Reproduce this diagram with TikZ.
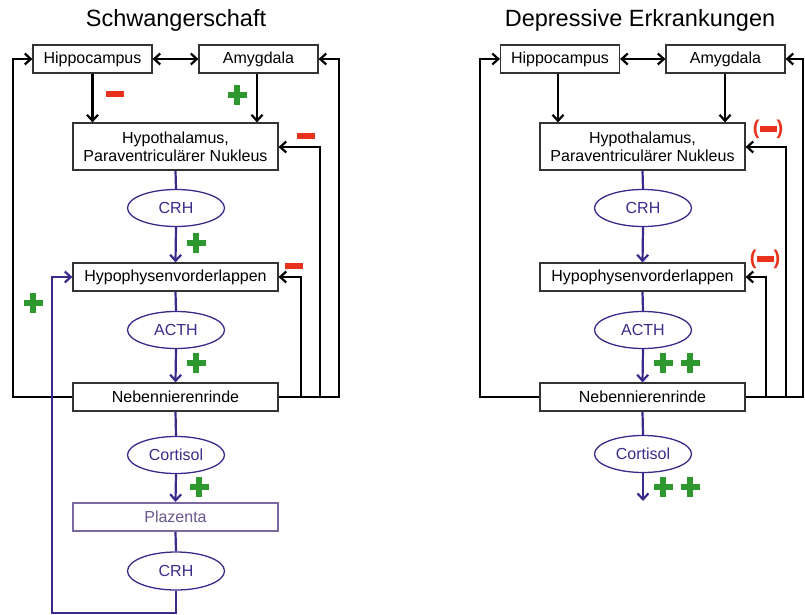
\documentclass[tikz,border=0pt]{standalone}
\usepackage{fontspec}
\setmainfont{Liberation Sans}
\usetikzlibrary{arrows.meta,shapes.geometric}
\definecolor{pblue}{RGB}{58,42,140}
\definecolor{pplac}{RGB}{122,104,160}
\definecolor{pplactext}{RGB}{104,88,142}
\definecolor{pred}{RGB}{232,50,28}
\definecolor{pgreen}{RGB}{46,152,46}
\tikzset{
  box/.style={draw=black!80, line width=1.2pt, fill=white, inner sep=0pt, align=center,
    font=\fontsize{16}{18}\selectfont, minimum height=28pt},
  hbox/.style={box, minimum width=205pt},
  sbox/.style={box, minimum width=119pt},
  hormone/.style={ellipse, draw=pblue, line width=1.3pt, text=pblue, inner sep=0pt,
    minimum width=97pt, minimum height=37pt, font=\fontsize{16}{18}\selectfont},
  plac/.style={hbox, draw=pplac, line width=2.2pt, text=pplactext},
  title/.style={font=\fontsize{23.5}{26}\selectfont, inner sep=0pt},
  karr/.style={line width=2.2pt, black, -{Straight Barb[length=6pt,width=11pt]}},
  kline/.style={line width=2.2pt, black},
  darr/.style={line width=2.2pt, black, {Straight Barb[length=6pt,width=11pt]}-{Straight Barb[length=6pt,width=11pt]}},
  barr/.style={line width=2.2pt, pblue, -{Straight Barb[length=6pt,width=11pt]}},
  bline/.style={line width=2.2pt, pblue},
  plussign/.pic={\fill[pgreen] (-9.5,-3.4) rectangle (9.5,3.4);
                 \fill[pgreen] (-3.4,-9.8) rectangle (3.4,9.8);},
  minussign/.pic={\fill[pred] (-9,-3) rectangle (9,3);},
  parminus/.style={text=pred, inner sep=0pt, font=\bfseries\fontsize{20}{20}\selectfont},
}
\begin{document}
\begin{tikzpicture}[x=1pt,y=-1pt]
\useasboundingbox (0,0) rectangle (805,615);

% ---------------- left: Schwangerschaft ----------------
\node[title] (tL) at (176,20) {Schwangerschaft};
\node[sbox] (hipL) at (92.5,59) {Hippocampus};
\node[sbox] (amyL) at (258.5,59) {Amygdala};
\node[hbox, minimum height=47pt] (hthL) at (175.5,146.5) {Hypothalamus,\\Paraventriculärer Nukleus};
\node[hormone] (crhL) at (176,208) {CRH};
\node[hbox] (hypL) at (175.5,277) {Hypophysenvorderlappen};
\node[hormone] (acthL) at (176,330) {ACTH};
\node[hbox] (nebL) at (175.5,397) {Nebennierenrinde};
\node[hormone] (cortL) at (176,455) {Cortisol};
\node[plac] (plaL) at (175.5,517) {Plazenta};
\node[hormone, minimum height=38pt] (crh2L) at (176,571) {CRH};

\coordinate (LA) at (13,59);
\coordinate (R1L) at (301,277);
\coordinate (R2L) at (320,147);
\coordinate (R3L) at (339,59);
\coordinate (B1L) at (176,613);
\coordinate (B2L) at (52,613);

\draw[darr] (hipL.east) -- (amyL.west);
\draw[karr] (hipL.south) -- (hipL.south |- hthL.north);
\draw[karr] (257,0 |- amyL.south) -- (257,0 |- hthL.north);
\draw[karr] (nebL.west) -| (LA) -- (hipL.west);
\draw[karr] (nebL.east) -| (R1L) -- (hypL.east);
\draw[karr] (nebL.east) -| (R2L) -- (hthL.east |- R2L);
\draw[karr] (nebL.east) -| (R3L) -- (amyL.east);

\draw[bline] (hthL.south) -- (crhL.north);
\draw[barr] (crhL.south) -- (hypL.north);
\draw[bline] (hypL.south) -- (acthL.north);
\draw[barr] (acthL.south) -- (nebL.north);
\draw[bline] (nebL.south) -- (cortL.north);
\draw[barr] (cortL.south) -- (plaL.north);
\draw[bline] (plaL.south) -- (crh2L.north);
\draw[barr] (crh2L.south) -- (B1L) -- (B2L) |- (hypL.west);

\pic at (115,94) {minussign};
\pic at (237,95) {plussign};
\pic at (306,136) {minussign};
\pic at (196,243) {plussign};
\pic at (294,266) {minussign};
\pic at (33,303) {plussign};
\pic at (196,363) {plussign};
\pic at (199,487) {plussign};

% ---------------- right: Depressive Erkrankungen ----------------
\node[title] (tR) at (640,20) {Depressive Erkrankungen};
\node[sbox] (hipR) at (560,59) {Hippocampus};
\node[sbox] (amyR) at (725.5,59) {Amygdala};
\node[hbox, minimum height=47pt] (hthR) at (642.5,146.5) {Hypothalamus,\\Paraventriculärer Nukleus};
\node[hormone] (crhR) at (643,208) {CRH};
\node[hbox] (hypR) at (642.5,277) {Hypophysenvorderlappen};
\node[hormone] (acthR) at (643,330) {ACTH};
\node[hbox] (nebR) at (642.5,397) {Nebennierenrinde};
\node[hormone] (cortR) at (643,454) {Cortisol};

\coordinate (LR) at (480,59);
\coordinate (R1R) at (766,277);
\coordinate (R2R) at (786,147);
\coordinate (R3R) at (803,59);
\coordinate (endR) at (643,501);

\draw[darr] (hipR.east) -- (amyR.west);
\draw[karr] (558,0 |- hipR.south) -- (558,0 |- hthR.north);
\draw[karr] (725,0 |- amyR.south) -- (725,0 |- hthR.north);
\draw[karr] (nebR.west) -| (LR) -- (hipR.west);
\draw[karr] (nebR.east) -| (R1R) -- (hypR.east);
\draw[karr] (nebR.east) -| (R2R) -- (hthR.east |- R2R);
\draw[karr] (nebR.east) -| (R3R) -- (amyR.east);

\draw[bline] (hthR.south) -- (crhR.north);
\draw[barr] (crhR.south) -- (hypR.north);
\draw[bline] (hypR.south) -- (acthR.north);
\draw[barr] (acthR.south) -- (nebR.north);
\draw[bline] (nebR.south) -- (cortR.north);
\draw[barr] (cortR.south) -- (endR);

\node[parminus] (pm1) at (768,129) {(\rule[2pt]{17pt}{6pt})};
\node[parminus] (pm2) at (765,259) {(\rule[2pt]{17pt}{6pt})};
\pic at (663,363) {plussign};
\pic at (690,363) {plussign};
\pic at (663,487) {plussign};
\pic at (690,487) {plussign};
\end{tikzpicture}
\end{document}
